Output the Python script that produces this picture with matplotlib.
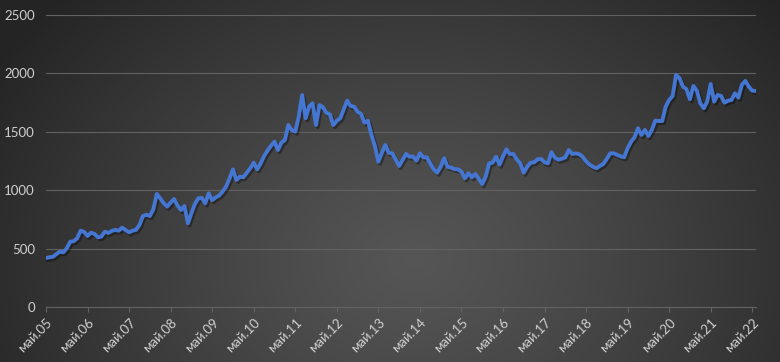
import matplotlib

matplotlib.use("Agg")

import matplotlib.patheffects as pe
import matplotlib.pyplot as plt
import numpy as np

# monthly values
prices = [
    422, 428, 432, 455, 476, 470, 505, 561, 565, 590, 655, 645,
    610, 638, 628, 598, 605, 647, 636, 653, 662, 655, 681, 660,
    641, 655, 662, 704, 781, 791, 781, 838, 969, 932, 890, 861,
    895, 926, 870, 832, 866, 718, 804, 883, 932, 935, 889, 975,
    917, 940, 955, 990, 1031, 1100, 1180, 1089, 1117, 1112, 1150, 1189,
    1237, 1180, 1230, 1294, 1340, 1382, 1417, 1345, 1408, 1431, 1559, 1516,
    1502, 1630, 1816, 1617, 1716, 1745, 1559, 1730, 1711, 1664, 1650, 1559,
    1596, 1616, 1693, 1767, 1722, 1716, 1673, 1653, 1579, 1596, 1474, 1380,
    1245, 1320, 1388, 1322, 1316, 1265, 1209, 1260, 1311, 1288, 1290, 1254,
    1317, 1282, 1282, 1230, 1180, 1151, 1202, 1274, 1202, 1195, 1182, 1180,
    1160, 1103, 1146, 1112, 1140, 1100, 1054, 1117, 1231, 1237, 1288, 1220,
    1290, 1351, 1311, 1311, 1265, 1231, 1151, 1202, 1237, 1240, 1266, 1269,
    1240, 1232, 1326, 1280, 1262, 1270, 1282, 1345, 1311, 1316, 1310, 1288,
    1250, 1220, 1202, 1189, 1209, 1226, 1270, 1317, 1317, 1303, 1290, 1283,
    1360, 1416, 1454, 1531, 1474, 1517, 1465, 1517, 1596, 1593, 1593, 1716,
    1773, 1807, 1987, 1959, 1887, 1865, 1779, 1893, 1853, 1745, 1702, 1759,
    1910, 1759, 1816, 1807, 1750, 1767, 1773, 1830, 1793, 1902, 1936, 1887,
    1853, 1850,
]
tick_labels = [
    "май.05", "май.06", "май.07", "май.08", "май.09", "май.10",
    "май.11", "май.12", "май.13", "май.14", "май.15", "май.16",
    "май.17", "май.18", "май.19", "май.20", "май.21", "май.22",
]
y_ticks = [0, 500, 1000, 1500, 2000, 2500]

W, H = 780, 362
TEXT = "#d0d0d0"
GRID = "#626262"


def _background(w, h):
    yy, xx = np.mgrid[0:h, 0:w]
    dx = (xx - 0.53 * w) / (0.62 * w)
    dy = (yy - 0.72 * h) / (1.05 * h)
    d = np.clip(np.sqrt(dx ** 2 + dy ** 2), 0, 1)
    g = 0.335 - (0.335 - 0.145) * d ** 1.2
    return np.dstack([g, g, g])


def main():
    plt.rcParams["font.family"] = ["Lato", "DejaVu Sans"]
    fig = plt.figure(figsize=(W / 100, H / 100), dpi=100)

    bg = fig.add_axes([0, 0, 1, 1], zorder=-1)
    bg.imshow(_background(W, H), aspect="auto", interpolation="bilinear")
    bg.axis("off")

    ax = fig.add_axes([46 / W, 1 - 307.3 / H, (755.7 - 46) / W, (307.3 - 15) / H])
    ax.set_facecolor("none")

    x = np.arange(len(prices))
    ax.plot(x, prices, color="#4576d2", lw=2.8, solid_joinstyle="round", zorder=3,
            path_effects=[pe.SimpleLineShadow(offset=(1.2, -1.5), shadow_color="black", alpha=0.35),
                          pe.Normal()])

    ax.set_xlim(0, len(prices) - 1)
    ax.set_ylim(0, 2500)
    ax.set_yticks(y_ticks)
    ax.set_yticklabels([str(v) for v in y_ticks])
    ax.set_xticks(np.arange(len(tick_labels)) * 12)
    ax.set_xticklabels(tick_labels, rotation=45, ha="right", va="top", rotation_mode="anchor")

    ax.grid(axis="y", color=GRID, lw=0.8, zorder=1)
    for side in ("left", "right", "top"):
        ax.spines[side].set_visible(False)
    ax.spines["bottom"].set_color(GRID)
    ax.spines["bottom"].set_linewidth(0.8)

    ax.tick_params(axis="y", length=0, pad=8, labelsize=9.5, labelcolor=TEXT)
    ax.tick_params(axis="x", length=3.5, width=0.8, color=GRID, pad=3,
                   labelsize=9.5, labelcolor=TEXT)

    fig.savefig("out.png", dpi=100)


if __name__ == "__main__":
    main()
